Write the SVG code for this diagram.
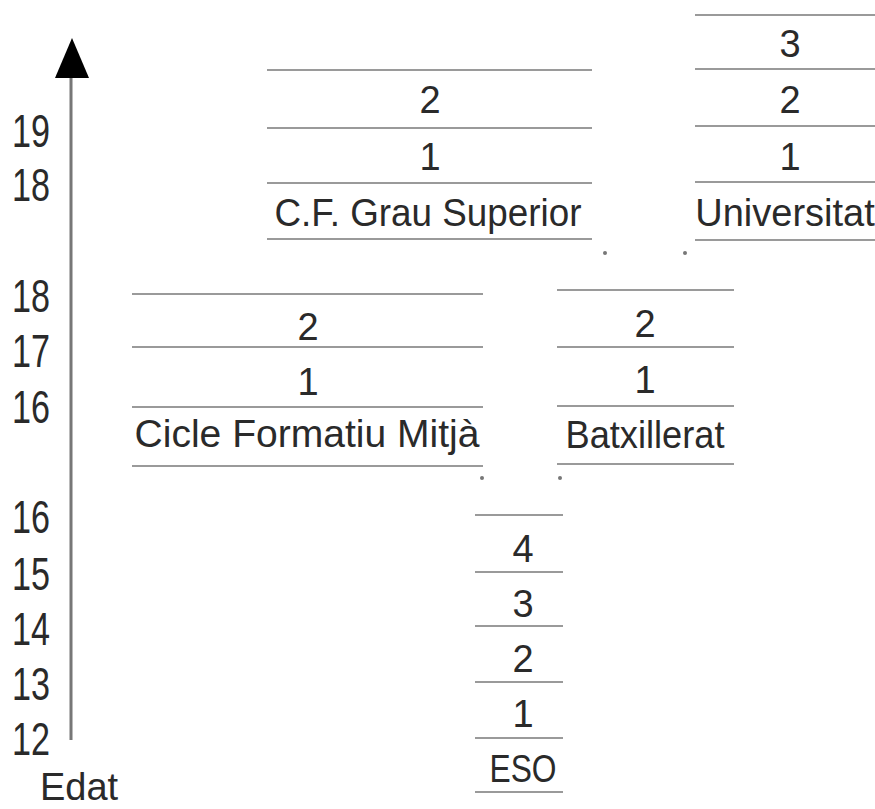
<svg xmlns="http://www.w3.org/2000/svg" width="875" height="809" viewBox="0 0 875 809">
<style>
.rule{stroke:#9a9a9a;stroke-width:2;fill:none}
.t{font-family:"Liberation Sans",Arial,sans-serif;font-size:38px;fill:#2a2a2a;text-anchor:middle}
.age{font-family:"Liberation Sans",Arial,sans-serif;font-size:46px;fill:#2a2a2a;text-anchor:end}
.dot{fill:#777}
</style>
<rect width="875" height="809" fill="#fff"/>
<g id="axis">
<line x1="71" y1="740" x2="71" y2="78" stroke="#777" stroke-width="3"/>
<path d="M55,78 L72,38 L89,78 Z" fill="#000"/>
<text class="age" x="50" y="147" textLength="38" lengthAdjust="spacingAndGlyphs">19</text>
<text class="age" x="50" y="201" textLength="38" lengthAdjust="spacingAndGlyphs">18</text>
<text class="age" x="50" y="312" textLength="38" lengthAdjust="spacingAndGlyphs">18</text>
<text class="age" x="50" y="367" textLength="38" lengthAdjust="spacingAndGlyphs">17</text>
<text class="age" x="50" y="423" textLength="38" lengthAdjust="spacingAndGlyphs">16</text>
<text class="age" x="50" y="533" textLength="38" lengthAdjust="spacingAndGlyphs">16</text>
<text class="age" x="50" y="590" textLength="38" lengthAdjust="spacingAndGlyphs">15</text>
<text class="age" x="50" y="645" textLength="38" lengthAdjust="spacingAndGlyphs">14</text>
<text class="age" x="50" y="700" textLength="38" lengthAdjust="spacingAndGlyphs">13</text>
<text class="age" x="50" y="755" textLength="38" lengthAdjust="spacingAndGlyphs">12</text>
<text class="t" x="79" y="800" font-size="36">Edat</text>
</g>
<g id="cf-grau-superior">
<line class="rule" x1="267" y1="70" x2="592" y2="70"/>
<line class="rule" x1="267" y1="128" x2="592" y2="128"/>
<line class="rule" x1="267" y1="183" x2="592" y2="183"/>
<line class="rule" x1="267" y1="239" x2="592" y2="239"/>
<text class="t" x="430" y="113">2</text>
<text class="t" x="430" y="170">1</text>
<text class="t" x="428" y="226" textLength="307" lengthAdjust="spacingAndGlyphs">C.F. Grau Superior</text>
</g>
<g id="universitat">
<line class="rule" x1="695" y1="15" x2="875" y2="15"/>
<line class="rule" x1="695" y1="69" x2="875" y2="69"/>
<line class="rule" x1="695" y1="126" x2="875" y2="126"/>
<line class="rule" x1="695" y1="182" x2="875" y2="182"/>
<line class="rule" x1="695" y1="240" x2="875" y2="240"/>
<text class="t" x="790" y="57">3</text>
<text class="t" x="790" y="113">2</text>
<text class="t" x="790" y="170">1</text>
<text class="t" x="785" y="226" font-size="35">Universitat</text>
</g>
<g id="cicle-formatiu-mitja">
<line class="rule" x1="132" y1="294" x2="483" y2="294"/>
<line class="rule" x1="132" y1="347" x2="483" y2="347"/>
<line class="rule" x1="132" y1="407" x2="483" y2="407"/>
<line class="rule" x1="132" y1="466" x2="483" y2="466"/>
<text class="t" x="308" y="340">2</text>
<text class="t" x="308" y="395">1</text>
<text class="t" x="307" y="447" textLength="345" lengthAdjust="spacingAndGlyphs">Cicle Formatiu Mitjà</text>
</g>
<g id="batxillerat">
<line class="rule" x1="557" y1="290" x2="734" y2="290"/>
<line class="rule" x1="557" y1="347" x2="734" y2="347"/>
<line class="rule" x1="557" y1="406" x2="734" y2="406"/>
<line class="rule" x1="557" y1="464" x2="734" y2="464"/>
<text class="t" x="645" y="337">2</text>
<text class="t" x="645" y="393">1</text>
<text class="t" x="645" y="448" textLength="159" lengthAdjust="spacingAndGlyphs">Batxillerat</text>
</g>
<g id="eso">
<line class="rule" x1="475" y1="515" x2="563" y2="515"/>
<line class="rule" x1="475" y1="572" x2="563" y2="572"/>
<line class="rule" x1="475" y1="626" x2="563" y2="626"/>
<line class="rule" x1="475" y1="682" x2="563" y2="682"/>
<line class="rule" x1="475" y1="738" x2="563" y2="738"/>
<line class="rule" x1="475" y1="792" x2="563" y2="792"/>
<text class="t" x="523" y="562">4</text>
<text class="t" x="523" y="617">3</text>
<text class="t" x="523" y="672">2</text>
<text class="t" x="523" y="727">1</text>
<text class="t" x="523" y="782" textLength="67" lengthAdjust="spacingAndGlyphs">ESO</text>
</g>
<g id="connectors">
<circle class="dot" cx="605" cy="253" r="2"/>
<circle class="dot" cx="685" cy="253" r="2"/>
<circle class="dot" cx="482" cy="478" r="2"/>
<circle class="dot" cx="560" cy="478" r="2"/>
</g>
</svg>
